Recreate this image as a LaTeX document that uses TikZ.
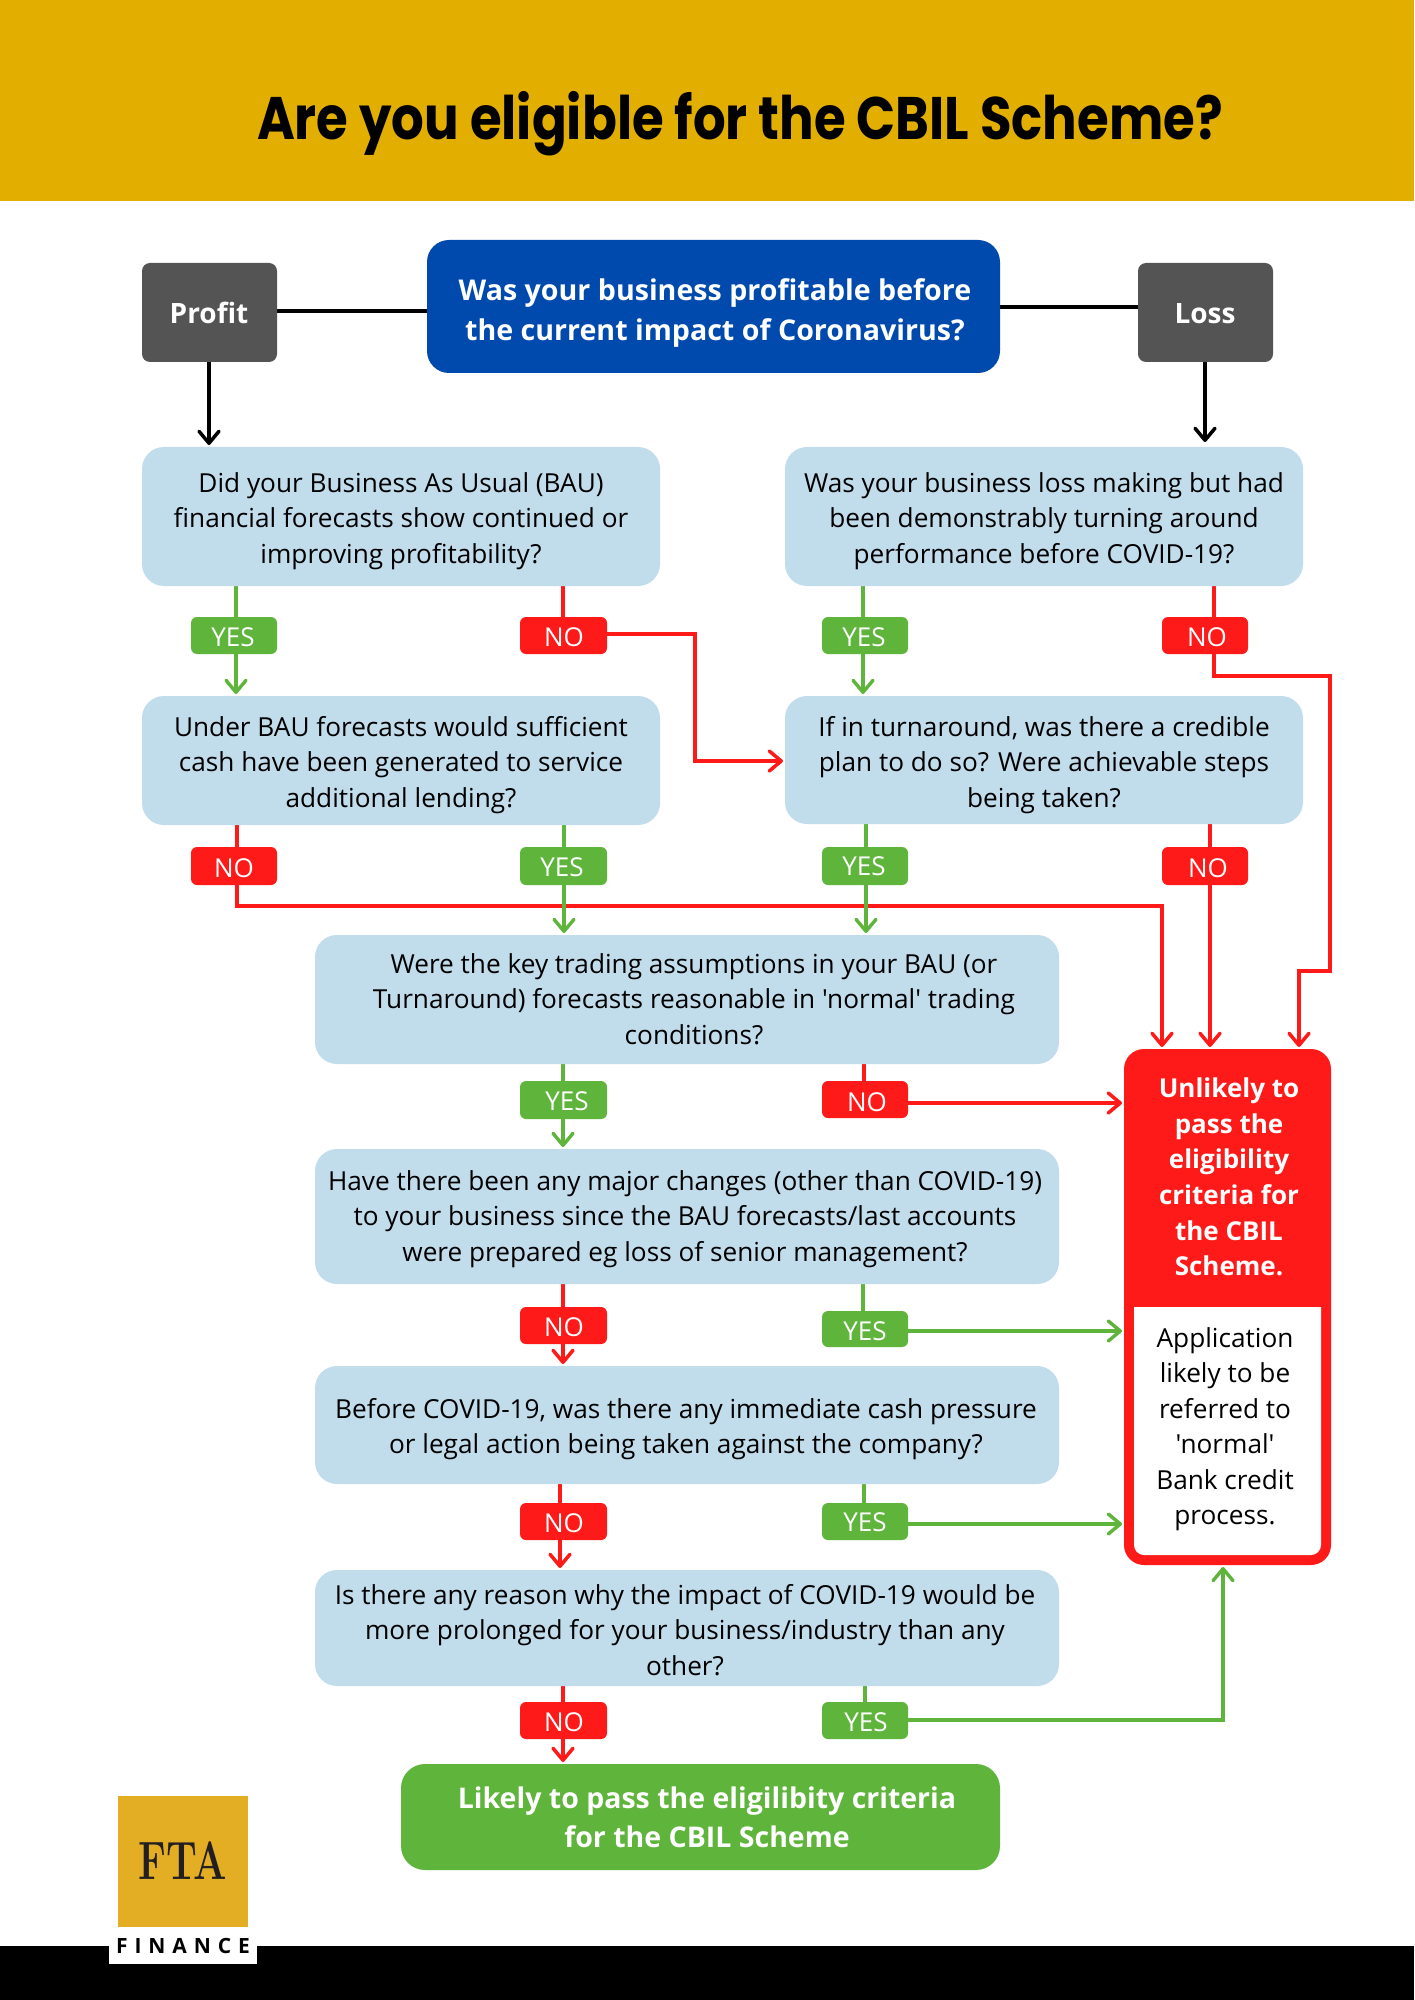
\documentclass[tikz,border=0pt]{standalone}
\usepackage{fontspec}
\newfontfamily\osans{Open Sans}
\newfontfamily\pop{Poppins}
\usetikzlibrary{arrows.meta,calc,backgrounds}
\definecolor{hdr}{HTML}{E2AE00}
\definecolor{logogold}{HTML}{E3AD24}
\definecolor{bluebx}{HTML}{004AAD}
\definecolor{greybx}{HTML}{545454}
\definecolor{qfill}{HTML}{C1DCEB}
\definecolor{grn}{HTML}{5FB43B}
\definecolor{rd}{HTML}{FF1A1A}
\newcommand\BX[9]{%
  \pgfmathsetmacro\bxw{(#5-#3)*0.5}\pgfmathsetmacro\bxh{(#6-#4)*0.5}%
  \pgfmathsetmacro\bxx{(#3+#5)/2}\pgfmathsetmacro\bxy{(#4+#6)/2}%
  \node[#2,minimum width=\bxw pt,minimum height=\bxh pt] (#1) at (\bxx,\bxy) {};
  \node[#2txt] (#1t) at (#7,#8) {#9};
}
\tikzset{
  x=0.5pt,y=-0.5pt,
  basebox/.style={rectangle,inner sep=0pt,outer sep=0pt},
  qbox/.style={basebox,fill=qfill,rounded corners=11pt},
  qboxtxt/.style={align=center,inner sep=0pt,text=black,font=\osans\fontsize{13.1}{17.75}\selectfont},
  blbox/.style={basebox,fill=bluebx,rounded corners=11pt},
  blboxtxt/.style={align=center,inner sep=0pt,text=white,font=\osans\bfseries\fontsize{14.3}{19.7}\selectfont},
  gybox/.style={basebox,fill=greybx,rounded corners=4pt},
  gyboxtxt/.style={inner sep=0pt,text=white,font=\osans\bfseries\fontsize{14}{19}\selectfont},
  gnbox/.style={basebox,fill=grn,rounded corners=12pt},
  gnboxtxt/.style={align=center,inner sep=0pt,text=white,font=\osans\bfseries\fontsize{14.25}{19.5}\selectfont},
  rdbox/.style={basebox,fill=rd,rounded corners=10pt},
  rdboxtxt/.style={align=center,inner sep=0pt,text=white,font=\osans\bfseries\fontsize{13}{17.8}\selectfont},
  yesbox/.style={basebox,fill=grn,rounded corners=3pt},
  yesboxtxt/.style={inner sep=0pt,text=white,font=\osans\fontsize{13}{16}\selectfont},
  nobox/.style={basebox,fill=rd,rounded corners=3pt},
  noboxtxt/.style={inner sep=0pt,text=white,font=\osans\fontsize{13}{16}\selectfont},
  logobox/.style={basebox,fill=logogold},
  logoboxtxt/.style={inner sep=0pt,text={rgb,255:red,35;green,31;blue,32},font=\rmfamily\bfseries\fontsize{27}{30}\selectfont},
  bk/.style={draw=black,line width=1.75pt},
  gl/.style={draw=grn,line width=1.7pt},
  rl/.style={draw=rd,line width=1.75pt},
  tip/.style={-{Straight Barb[length=6pt,width=10pt,round]},shorten >=1pt},
}
\begin{document}
\begin{tikzpicture}
\useasboundingbox (0,0) rectangle (1414,2000);
\begin{scope}[on background layer]
\fill[white] (0,0) rectangle (1414,2000);
\end{scope}
\fill[hdr] (0,0) rectangle (1414,201);
\fill[black] (0,1946) rectangle (1414,2000);
\node[inner sep=0pt,font=\pop\bfseries\fontsize{30}{34}\selectfont] (title) at (740,124) {\scalebox{.856}[1]{Are you eligible for the CBIL Scheme?}};

% top row
\BX{profit}{gybox}{142}{263}{277}{362}{209}{313}{Profit}
\BX{main}{blbox}{427}{240}{1000}{373}{715}{313}{Was your business profitable before\\the current impact of Coronavirus?}
\BX{loss}{gybox}{1138}{263}{1273}{362}{1205}{314}{Loss}

% questions
\BX{qa}{qbox}{142}{447}{660}{586}{401}{521}{Did your Business As Usual (BAU)\\financial forecasts show continued or\\improving profitability?}
\BX{qb}{qbox}{785}{447}{1303}{586}{1044}{521}{Was your business loss making but had\\been demonstrably turning around\\performance before COVID-19?}
\BX{qc}{qbox}{142}{696}{660}{825}{401}{765}{Under BAU forecasts would sufficient\\cash have been generated to service\\additional lending?}
\BX{qd}{qbox}{785}{696}{1303}{824}{1044}{765}{If in turnaround, was there a credible\\plan to do so? Were achievable steps\\being taken?}
\BX{qe}{qbox}{315}{935}{1059}{1064}{694}{999}{Were the key trading assumptions in your BAU (or\\Turnaround) forecasts reasonable in 'normal' trading\\conditions?}
\BX{qf}{qbox}{315}{1149}{1059}{1284}{685}{1219}{Have there been any major changes (other than COVID-19)\\to your business since the BAU forecasts/last accounts\\were prepared eg loss of senior management?}
\BX{qg}{qbox}{315}{1366}{1059}{1484}{686}{1429}{Before COVID-19, was there any immediate cash pressure\\or legal action being taken against the company?}
\BX{qh}{qbox}{315}{1570}{1059}{1686}{685}{1630}{Is there any reason why the impact of COVID-19 would be\\more prolonged for your business/industry than any\\other?}
\BX{good}{gnbox}{401}{1764}{1000}{1870}{707}{1817}{Likely to pass the eligilibity criteria\\for the CBIL Scheme}

% outcome box
\BX{unl}{rdbox}{1124}{1049}{1331}{1565}{1229}{1177}{Unlikely to\\pass the\\eligibility\\criteria for\\the CBIL\\Scheme.\hspace{0.3em}}
\fill[white] (1134,1307) -- (1321,1307) [rounded corners=5pt] -- (1321,1555) -- (1134,1555) [sharp corners] -- cycle;
\node[qboxtxt] (unlnote) at (1225,1429) {Application\\likely to be\\referred to\\'normal'\\Bank credit\\process.};

% labels
\BX{ya}{yesbox}{191}{617}{277}{654}{233}{637}{YES}
\BX{na}{nobox}{520}{617}{607}{654}{564}{637}{NO}
\BX{yb}{yesbox}{822}{617}{908}{654}{864}{637}{YES}
\BX{nb}{nobox}{1162}{617}{1248}{654}{1207}{637}{NO}
\BX{nc}{nobox}{191}{847}{277}{885}{234}{868}{NO}
\BX{yc}{yesbox}{520}{847}{607}{885}{562}{867}{YES}
\BX{yd}{yesbox}{822}{847}{908}{885}{864}{866}{YES}
\BX{nd}{nobox}{1162}{847}{1248}{885}{1208}{868}{NO}
\BX{ye}{yesbox}{520}{1081}{607}{1119}{567}{1101}{YES}
\BX{ne}{nobox}{822}{1081}{908}{1118}{867}{1102}{NO}
\BX{nf}{nobox}{520}{1307}{607}{1344}{564}{1327}{NO}
\BX{yf}{yesbox}{822}{1311}{908}{1347}{865}{1331}{YES}
\BX{ng}{nobox}{520}{1503}{607}{1540}{564}{1523}{NO}
\BX{yg}{yesbox}{822}{1503}{908}{1540}{865}{1522}{YES}
\BX{nh}{nobox}{520}{1702}{607}{1739}{564}{1722}{NO}
\BX{yh}{yesbox}{822}{1702}{908}{1739}{866}{1722}{YES}

% logo
\fill[white] (109,1930) rectangle (257,1964);
\BX{logo}{logobox}{118}{1796}{248}{1927}{183}{1861}{\scalebox{.73}[1]{FTA}}
\node[inner sep=0pt,text=black,font=\osans\bfseries\fontsize{10.5}{12}\selectfont] (finance) at (183,1946) {\addfontfeature{LetterSpace=33}FINANCE};

% connectors
\begin{scope}[on background layer]
\draw[bk] (profit.east |- 0,311) -- (main.west |- 0,311);
\draw[bk] (main.east |- 0,307) -- (loss.west |- 0,307);
\draw[bk,tip] (209,0 |- profit.south) -- (209,0 |- qa.north);
\draw[bk,tip,shorten >=2.5pt] (1205,0 |- loss.south) -- (1205,0 |- qb.north);

\draw[gl] (236,0 |- qa.south) -- (236,0 |- ya.north);
\draw[gl,tip] (236,0 |- ya.south) -- (236,0 |- qc.north);
\draw[rl] (563,0 |- qa.south) -- (563,0 |- na.north);
\draw[rl,tip] (na.east |- 0,634) -- (695,634) -- (695,761) -- (qd.west |- 0,761);
\draw[gl] (863,0 |- qb.south) -- (863,0 |- yb.north);
\draw[gl,tip] (863,0 |- yb.south) -- (863,0 |- qd.north);
\draw[rl] (1214,0 |- qb.south) -- (1214,0 |- nb.north);
\draw[rl,tip] (1214,0 |- nb.south) -- (1214,676) -- (1330,676) -- (1330,971) -- (1299,971) -- (1299,0 |- unl.north);

\draw[rl] (237,0 |- qc.south) -- (237,0 |- nc.north);
\draw[rl,tip] (237,0 |- nc.south) -- (237,906) -- (1162,906) -- (1162,0 |- unl.north);
\draw[gl] (564,0 |- qc.south) -- (564,0 |- yc.north);
\draw[gl,tip] (564,0 |- yc.south) -- (564,0 |- qe.north);
\draw[gl] (866,0 |- qd.south) -- (866,0 |- yd.north);
\draw[gl,tip] (866,0 |- yd.south) -- (866,0 |- qe.north);
\draw[rl] (1210,0 |- qd.south) -- (1210,0 |- nd.north);
\draw[rl,tip] (1210,0 |- nd.south) -- (1210,0 |- unl.north);

\draw[gl] (563,0 |- qe.south) -- (563,0 |- ye.north);
\draw[gl,tip] (563,0 |- ye.south) -- (563,0 |- qf.north);
\draw[rl] (864,0 |- qe.south) -- (864,0 |- ne.north);
\draw[rl,tip] (ne.east |- 0,1103) -- (unl.west |- 0,1103);

\draw[rl] (563,0 |- qf.south) -- (563,0 |- nf.north);
\draw[rl,tip] (563,0 |- nf.south) -- (563,0 |- qg.north);
\draw[gl] (863,0 |- qf.south) -- (863,0 |- yf.north);
\draw[gl,tip] (yf.east |- 0,1331) -- (unl.west |- 0,1331);

\draw[rl] (560,0 |- qg.south) -- (560,0 |- ng.north);
\draw[rl,tip] (560,0 |- ng.south) -- (560,0 |- qh.north);
\draw[gl] (864,0 |- qg.south) -- (864,0 |- yg.north);
\draw[gl,tip] (yg.east |- 0,1524) -- (unl.west |- 0,1524);

\draw[rl] (563,0 |- qh.south) -- (563,0 |- nh.north);
\draw[rl,tip] (563,0 |- nh.south) -- (563,0 |- good.north);
\draw[gl] (865,0 |- qh.south) -- (865,0 |- yh.north);
\draw[gl,tip] (yh.east |- 0,1720) -- (1223,1720) -- (1223,0 |- unl.south);
\end{scope}
\end{tikzpicture}
\end{document}
